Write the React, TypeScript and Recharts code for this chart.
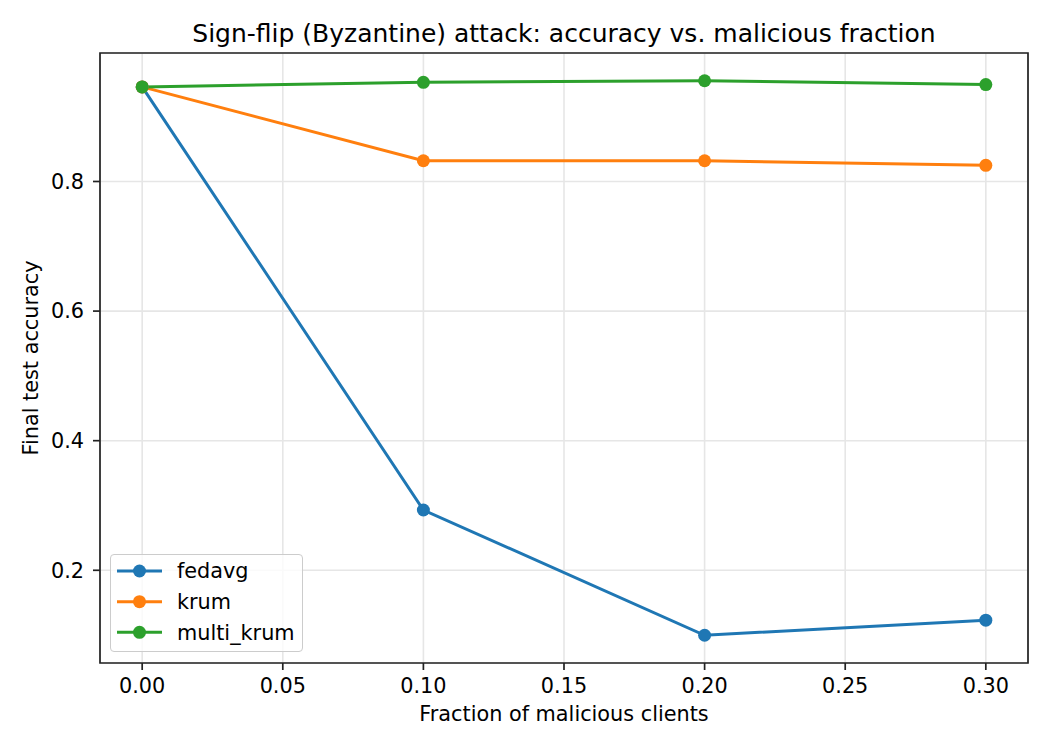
import {
  CartesianGrid,
  Label,
  Legend,
  Line,
  LineChart,
  ReferenceArea,
  XAxis,
  YAxis
} from "recharts";

const fractions = [0, 0.1, 0.2, 0.3];
const fedavgAcc = [0.946, 0.293, 0.0997, 0.123];
const krumAcc = [0.946, 0.832, 0.832, 0.825];
const multiKrumAcc = [0.946, 0.953, 0.9555, 0.9495];

const xTicks = [0, 0.05, 0.1, 0.15, 0.2, 0.25, 0.3];
const yTicks = [0.2, 0.4, 0.6, 0.8];

const series = [
  { key: "fedavg", label: "fedavg", color: "#1f77b4" },
  { key: "krum", label: "krum", color: "#ff7f0e" },
  { key: "multi_krum", label: "multi_krum", color: "#2ca02c" }
];

const rows = fractions.map((fraction, i) => ({
  fraction,
  fedavg: fedavgAcc[i],
  krum: krumAcc[i],
  multi_krum: multiKrumAcc[i]
}));

// matplotlib-style 5% margins around the data
const allValues = [...fedavgAcc, ...krumAcc, ...multiKrumAcc];
const yMin = Math.min(...allValues);
const yMax = Math.max(...allValues);
const yPad = (yMax - yMin) * 0.05;
const yDomain: [number, number] = [yMin - yPad, yMax + yPad];
const xPad = (fractions[fractions.length - 1] - fractions[0]) * 0.05;
const xDomain: [number, number] = [fractions[0] - xPad, fractions[fractions.length - 1] + xPad];

const FONT = "'DejaVu Sans', sans-serif";
const INK = "#222";

function LegendBox() {
  const rowCenters = [17, 47.7, 78.3];
  return (
    <div
      style={{
        width: 193,
        height: 98,
        boxSizing: "border-box",
        border: "1.5px solid #cccccc",
        borderRadius: 4,
        background: "rgba(255,255,255,0.8)"
      }}
    >
      <svg width={190} height={95} style={{ display: "block", overflow: "visible", marginLeft: -1.5, marginTop: -1.5 }}>
        {series.map((s, i) => (
          <g key={s.key}>
            <line x1={7} x2={52} y1={rowCenters[i]} y2={rowCenters[i]} stroke={s.color} strokeWidth={3} />
            <circle cx={29.5} cy={rowCenters[i]} r={6.5} fill={s.color} />
            <text x={67} y={rowCenters[i] + 7.3} fontSize={20.8} fontFamily={FONT} fill="#000">
              {s.label}
            </text>
          </g>
        ))}
      </svg>
    </div>
  );
}

export default function App() {
  return (
    <div style={{ position: "absolute", left: 0, top: 0, width: 1050, height: 750, background: "#fff", fontFamily: FONT }}>
      <div
        style={{
          position: "absolute",
          left: 100,
          width: 928,
          top: 20.5,
          textAlign: "center",
          fontSize: 25,
          lineHeight: "25px",
          color: "#000",
          whiteSpace: "nowrap"
        }}
      >
        Sign-flip (Byzantine) attack: accuracy vs. malicious fraction
      </div>
      <LineChart width={1050} height={750} data={rows} margin={{ top: 53, right: 22, bottom: 27, left: 0 }}>
        <CartesianGrid stroke="#e6e6e6" strokeWidth={1.6} />
        <ReferenceArea
          x1={xDomain[0]}
          x2={xDomain[1]}
          y1={yDomain[0]}
          y2={yDomain[1]}
          fill="none"
          fillOpacity={0}
          stroke={INK}
          strokeWidth={1.7}
        />
        <XAxis
          type="number"
          dataKey="fraction"
          domain={xDomain}
          ticks={xTicks}
          allowDataOverflow
          height={60}
          axisLine={false}
          tickLine={{ stroke: INK, strokeWidth: 1.7 }}
          tickSize={7}
          tickMargin={8}
          tick={{ fill: "#000", fontSize: 20.8, fontFamily: FONT }}
          tickFormatter={(v) => Number(v).toFixed(2)}
        >
          <Label
            content={({ viewBox }: any) => (
              <text
                x={viewBox.x + viewBox.width / 2}
                y={viewBox.y + viewBox.height - 2}
                textAnchor="middle"
                fontSize={20.8}
                fontFamily={FONT}
                fill="#000"
              >
                Fraction of malicious clients
              </text>
            )}
          />
        </XAxis>
        <YAxis
          type="number"
          domain={yDomain}
          ticks={yTicks}
          allowDataOverflow
          width={100}
          axisLine={false}
          tickLine={{ stroke: INK, strokeWidth: 1.7 }}
          tickSize={7}
          tickMargin={9}
          tick={{ fill: "#000", fontSize: 20.8, fontFamily: FONT }}
          tickFormatter={(v) => Number(v).toFixed(1)}
        >
          <Label
            content={({ viewBox }: any) => {
              const cx = 38;
              const cy = viewBox.y + viewBox.height / 2;
              return (
                <text
                  x={cx}
                  y={cy}
                  transform={`rotate(-90, ${cx}, ${cy})`}
                  textAnchor="middle"
                  fontSize={20.8}
                  fontFamily={FONT}
                  fill="#000"
                >
                  Final test accuracy
                </text>
              );
            }}
          />
        </YAxis>
        {series.map((s) => (
          <Line
            key={s.key}
            type="linear"
            dataKey={s.key}
            name={s.label}
            stroke={s.color}
            strokeWidth={3}
            dot={{ r: 6.5, fill: s.color, stroke: "none" }}
            activeDot={false}
            isAnimationActive={false}
          />
        ))}
        <Legend
          layout="vertical"
          align="center"
          verticalAlign="middle"
          wrapperStyle={{ left: 110, top: 554, width: 193, height: 98, margin: 0, padding: 0 }}
          content={() => <LegendBox />}
        />
      </LineChart>
    </div>
  );
}
